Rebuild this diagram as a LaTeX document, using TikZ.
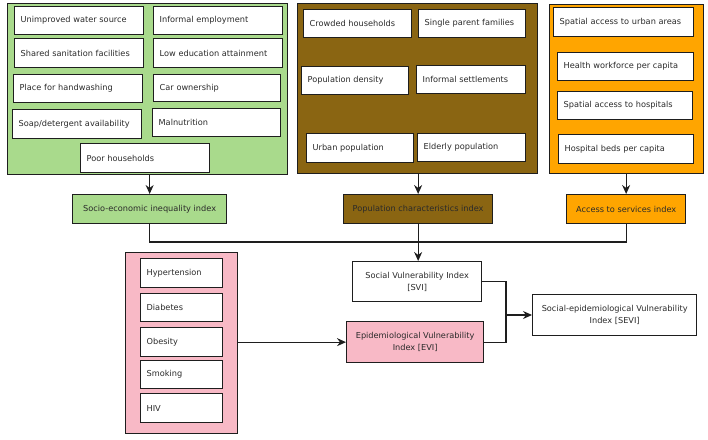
\documentclass[tikz,border=0pt]{standalone}
\usepackage{fontspec}
\setmainfont{DejaVu Sans}
\usetikzlibrary{arrows.meta}
\definecolor{gfill}{HTML}{A9DA8C}
\definecolor{bfill}{HTML}{8A6512}
\definecolor{ofill}{HTML}{FFA500}
\definecolor{pfill}{HTML}{F8B9C6}
\definecolor{edge}{HTML}{1E1E1E}
\definecolor{txt}{HTML}{2A2A2A}
\tikzset{
  every node/.style={font=\fontsize{8.2}{12}\selectfont, text=txt},
  frame/.style={draw=edge, line width=1.3pt, anchor=north west, inner sep=0pt},
  item/.style={draw=edge, line width=1.3pt, fill=white, anchor=north west, inner xsep=6pt, inner ysep=0pt, align=left},
  idx/.style={draw=edge, line width=1.3pt, anchor=north west, inner sep=0pt, align=center},
  conn/.style={draw=edge, line width=1.1pt},
  arr/.style={conn, -{Stealth[length=9pt,width=8pt]}}
}
% \bx{name}{style}{x1}{y1}{x2}{y2}{text}
\newcommand{\bx}[7]{%
  \pgfmathsetmacro{\bw}{#5-#3}\pgfmathsetmacro{\bh}{#6-#4}%
  \pgfmathsetmacro{\tw}{#5-#3-12}%
  \node[#2, minimum width=\bw pt, minimum height=\bh pt, text width=\tw pt] (#1) at (#3,#4) {#7};}
\newcommand{\fr}[7]{%
  \pgfmathsetmacro{\bw}{#5-#3}\pgfmathsetmacro{\bh}{#6-#4}%
  \node[#2, minimum width=\bw pt, minimum height=\bh pt] (#1) at (#3,#4) {#7};}
\begin{document}
\begin{tikzpicture}[x=1pt,y=-1pt]
\useasboundingbox (0,0) rectangle (708,439);
% frames
\fr{gframe}{frame, fill=gfill}{7}{3}{287}{174}{}
\fr{bframe}{frame, fill=bfill}{297}{3}{537}{173}{}
\fr{oframe}{frame, fill=ofill}{549}{4}{703}{173}{}
\fr{pframe}{frame, fill=pfill}{125}{252}{237}{433}{}
% green items
\bx{g1}{item}{14}{6}{143}{34}{Unimproved water source}
\bx{g2}{item}{14}{38}{143}{67}{Shared sanitation facilities}
\bx{g3}{item}{13}{74}{142}{102}{Place for handwashing}
\bx{g4}{item}{12}{109}{141}{138}{Soap/detergent availability}
\bx{g5}{item}{153}{6}{282}{34}{Informal employment}
\bx{g6}{item}{153}{38}{282}{67}{Low education attainment}
\bx{g7}{item}{153}{74}{280}{101}{Car ownership}
\bx{g8}{item}{152}{108}{280}{136}{Malnutrition}
\bx{g9}{item}{80}{143}{209}{172}{Poor households}
% brown items
\bx{b1}{item}{303}{9}{411}{37}{Crowded households}
\bx{b2}{item}{418}{9}{525}{37}{Single parent families}
\bx{b3}{item}{301}{66}{408}{94}{Population density}
\bx{b4}{item}{416}{65}{525}{93}{Informal settlements}
\bx{b5}{item}{306}{133}{413}{162}{Urban population}
\bx{b6}{item}{417}{133}{525}{161}{Elderly population}
% orange items
\bx{o1}{item}{553}{7}{693}{36}{Spatial access to urban areas}
\bx{o2}{item}{557}{52}{693}{80}{Health workforce per capita}
\bx{o3}{item}{557}{91}{692}{119}{Spatial access to hospitals}
\bx{o4}{item}{558}{134}{693}{163}{Hospital beds per capita}
% pink items
\bx{p1}{item}{140}{258}{222}{287}{Hypertension}
\bx{p2}{item}{140}{293}{222}{321}{Diabetes}
\bx{p3}{item}{140}{327}{222}{356}{Obesity}
\bx{p4}{item}{140}{360}{222}{388}{Smoking}
\bx{p5}{item}{140}{393}{222}{422}{HIV}
% indices
\fr{se}{idx, fill=gfill}{72}{194}{226}{223}{Socio-economic inequality index}
\fr{pc}{idx, fill=bfill}{343}{194}{492}{223}{Population characteristics index}
\fr{ac}{idx, fill=ofill}{566}{194}{685}{223}{Access to services index}
\fr{svi}{idx, fill=white}{352}{261}{481}{301}{Social Vulnerability Index\\{}[SVI]}
\fr{evi}{idx, fill=pfill}{346}{321}{483}{362}{Epidemiological Vulnerability\\Index [EVI]}
\fr{sevi}{idx, fill=white}{532}{294}{696}{335}{Social-epidemiological Vulnerability\\Index [SEVI]}
% connectors
\draw[arr] (gframe.south -| se.north) -- (se.north);
\draw[arr] (bframe.south -| pc.north) -- (pc.north);
\draw[arr] (oframe.south -| ac.north) -- (ac.north);
\coordinate (hl) at (0,242);
\draw[conn] (se.south) -- (se.south |- hl) -| (ac.south);
\draw[arr] (pc.south) -- (pc.south |- svi.north);
\draw[arr] (pframe.east |- evi.west) -- (evi.west);
\coordinate (j) at (506,315);
\draw[conn] (svi.east) -| (j);
\draw[conn] (evi.east) -| (j);
\draw[arr] (j) -- (j -| sevi.west);
\end{tikzpicture}
\end{document}
